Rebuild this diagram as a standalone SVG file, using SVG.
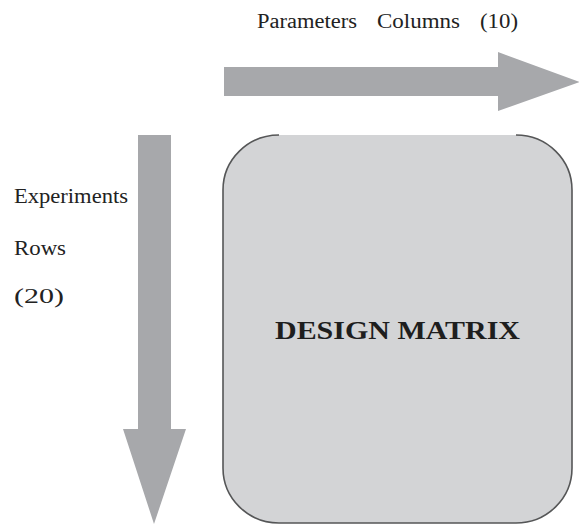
<svg xmlns="http://www.w3.org/2000/svg" width="579" height="524" viewBox="0 0 579 524">
<style>
.lbl{font-family:"Liberation Serif","Times New Roman",serif;font-size:20px;fill:#222222}
.title{font-family:"Liberation Serif","Times New Roman",serif;font-size:26px;font-weight:bold;fill:#1e1e1e}
.arrow{fill:#a7a8ab}
</style>
<rect width="579" height="524" fill="#ffffff"/>
<g id="matrix">
<path d="M279,135 H516 A56,55 0 0 1 572,190 V468 A56,55 0 0 1 516,523 H279 A56,55 0 0 1 223,468 V190 A56,55 0 0 1 279,135 Z" fill="#d3d4d6"/>
<path d="M279,135 A56,55 0 0 0 223,190 V468 A56,55 0 0 0 279,523 H516 A56,55 0 0 0 572,468 V190 A56,55 0 0 0 516,135" fill="none" stroke="#555657" stroke-width="1.6"/>
<text class="title" x="275" y="339" textLength="245" lengthAdjust="spacingAndGlyphs">DESIGN MATRIX</text>
</g>
<g id="connectors">
<polygon id="cols-arrow" class="arrow" points="224,67 498,67 498,52 580,82 498,111 498,96 224,96"/>
<polygon id="rows-arrow" class="arrow" points="138,135 171,135 171,429 186,429 154,524 123,429 138,429"/>
</g>
<g id="labels">
<text class="lbl" x="257" y="28" textLength="100" lengthAdjust="spacingAndGlyphs">Parameters</text>
<text class="lbl" x="377" y="28" textLength="83" lengthAdjust="spacingAndGlyphs">Columns</text>
<text class="lbl" x="480" y="28" textLength="38" lengthAdjust="spacingAndGlyphs">(10)</text>
<text class="lbl" x="14" y="203" textLength="114" lengthAdjust="spacingAndGlyphs">Experiments</text>
<text class="lbl" x="14" y="255" textLength="52" lengthAdjust="spacingAndGlyphs">Rows</text>
<text class="lbl" x="14" y="303" textLength="50" lengthAdjust="spacingAndGlyphs">(20)</text>
</g>
</svg>
